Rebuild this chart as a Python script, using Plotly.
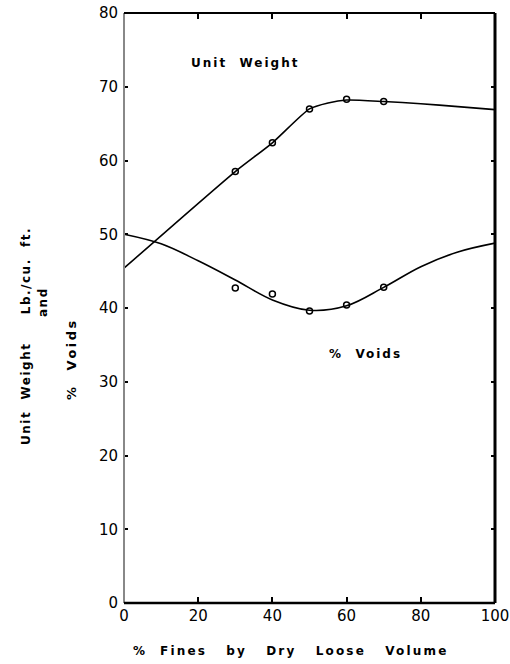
import plotly.graph_objects as go

# Data
uw_curve_x = [0, 30, 40, 50, 55, 60, 70, 80, 90, 100]
uw_curve_y = [45.4, 58.5, 62.4, 67.0, 67.8, 68.2, 68.0, 67.7, 67.3, 66.9]
uw_pts_x = [30, 40, 50, 60, 70]
uw_pts_y = [58.5, 62.4, 67.0, 68.3, 68.0]

voids_curve_x = [0, 10, 20, 30, 40, 50, 60, 70, 80, 90, 100]
voids_curve_y = [50.0, 48.7, 46.4, 43.8, 41.1, 39.7, 40.3, 42.8, 45.6, 47.6, 48.8]
voids_pts_x = [30, 40, 50, 60, 70]
voids_pts_y = [42.7, 41.9, 39.6, 40.4, 42.8]

x_ticks = [0, 20, 40, 60, 80, 100]
y_ticks = [0, 10, 20, 30, 40, 50, 60, 70, 80]

FONT = "DejaVu Sans"

FW, FH = 510, 664
PL, PR, PT, PB = 124, 495, 13, 603  # plot box in pixels

fig = go.Figure()
for cx, cy, sm in [(uw_curve_x, uw_curve_y, 0.6), (voids_curve_x, voids_curve_y, 1.0)]:
    fig.add_trace(go.Scatter(x=cx, y=cy, mode="lines",
                             line=dict(color="black", width=1.6, shape="spline", smoothing=sm),
                             hoverinfo="skip", showlegend=False))
for px, py in [(uw_pts_x, uw_pts_y), (voids_pts_x, voids_pts_y)]:
    fig.add_trace(go.Scatter(x=px, y=py, mode="markers",
                             marker=dict(symbol="circle-open", size=6, color="black",
                                         line=dict(width=1.5, color="black")),
                             showlegend=False))

def spaced(t, ls=2):
    return f'<span style="letter-spacing:{ls}px">{t}</span>'

W = PR - PL
H = PB - PT

fig.update_layout(
    width=FW, height=FH,
    margin=dict(l=PL, r=FW - PR, t=PT, b=FH - PB, pad=0),
    paper_bgcolor="white", plot_bgcolor="white",
    font=dict(family=FONT, color="black", size=14),
    xaxis=dict(range=[0, 100], tickvals=x_ticks, ticktext=[str(v) for v in x_ticks],
               ticks="inside", ticklen=6, tickwidth=2, tickcolor="black",
               mirror="ticks", showline=False, showgrid=False, zeroline=False,
               automargin=False, ticklabelstandoff=2, ticklabeloverflow="allow",
               tickfont=dict(size=15)),
    yaxis=dict(range=[0, 80], tickvals=y_ticks, ticktext=[str(v) for v in y_ticks],
               ticks="inside", ticklen=4, tickwidth=2, tickcolor="black",
               mirror="ticks", showline=False, showgrid=False, zeroline=False,
               automargin=False, ticklabelstandoff=5, ticklabeloverflow="allow",
               tickfont=dict(size=15)),
    shapes=[
        dict(type="line", xref="paper", yref="paper", x0=0, x1=0, y0=0, y1=1,
             line=dict(color="#888888", width=2)),
        dict(type="line", xref="paper", yref="paper", x0=0, x1=1, y0=1, y1=1,
             line=dict(color="black", width=2)),
        dict(type="line", xref="paper", yref="paper", x0=1, x1=1, y0=0, y1=1,
             line=dict(color="black", width=3)),
        dict(type="line", xref="paper", yref="paper", x0=0, x1=1, y0=0, y1=0,
             line=dict(color="black", width=2.5)),
    ],
)

fig.add_annotation(x=32.6, y=73.2, xref="x", yref="y", text=spaced("<b>Unit  Weight</b>", 2),
                   showarrow=False, font=dict(size=12))
fig.add_annotation(x=65, y=33.8, xref="x", yref="y", text=spaced("<b>%  Voids</b>", 2),
                   showarrow=False, font=dict(size=12))
# x-axis title
fig.add_annotation(x=(291 - PL) / W, y=(PB - 651) / H, xref="paper", yref="paper",
                   xanchor="center", yanchor="middle",
                   text=spaced("<b>%  Fines   by   Dry   Loose   Volume</b>", 2.2),
                   showarrow=False, font=dict(size=12))
# y-axis title (three rotated lines)
for txt, xc, yc, fs, ls in [("<b>Unit  Weight     Lb./cu.  ft.</b>", 26, 336, 12, 1.5),
                            ("<b>and</b>", 43, 302, 12, 1.5),
                            ("<b>%  Voids</b>", 71, 359, 13, 2.5)]:
    fig.add_annotation(x=(xc - PL) / W, y=(PB - yc) / H, xref="paper", yref="paper",
                       xanchor="center", yanchor="middle", text=spaced(txt, ls),
                       textangle=-90, showarrow=False, font=dict(size=fs))

fig.write_html("out.html", config={"displayModeBar": False},
               post_script="document.body.style.margin='0';document.body.style.overflow='hidden';")
